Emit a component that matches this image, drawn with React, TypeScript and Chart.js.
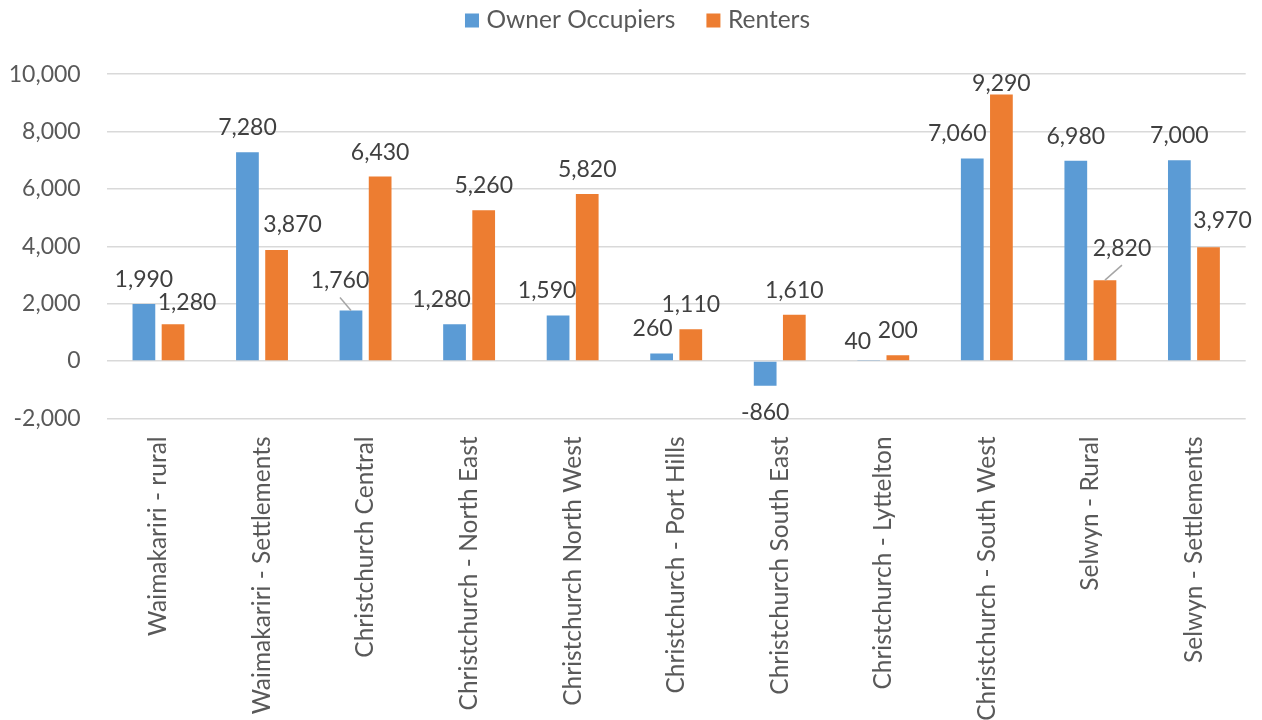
import React, { useEffect, useRef } from 'react';
import { Chart, registerables } from 'chart.js';

Chart.register(...registerables);

const categories = [
  'Waimakariri - rural',
  'Waimakariri - Settlements',
  'Christchurch Central',
  'Christchurch - North East',
  'Christchurch North West',
  'Christchurch - Port Hills',
  'Christchurch South East',
  'Christchurch - Lyttelton',
  'Christchurch - South West',
  'Selwyn - Rural',
  'Selwyn - Settlements',
];

const ownerOccupiers = [1990, 7280, 1760, 1280, 1590, 260, -860, 40, 7060, 6980, 7000];
const renters = [1280, 3870, 6430, 5260, 5820, 1110, 1610, 200, 9290, 2820, 3970];

const seriesNames = ['Owner Occupiers', 'Renters'];
const seriesColors = ['#5B9BD5', '#ED7D31'];

const yMin = -2000;
const yMax = 10000;
const yStep = 2000;

// label nudges in px [dx, dy] (Excel's manual label placement)
const ownerNudge = [[0, 0], [0, 0], [-11, -5.5], [-13, 0], [-11, 0], [-9, 0], [0, 0], [-11, 6.5], [-15, 0], [0, 0], [0, 0]];
const renterNudge = [[14, 2.5], [16, -1.3], [0, 0], [0, 0], [0, 0], [0, 0], [0, 0], [0, 0], [0, 14], [17, -7.5], [14, -2.5]];
const ownerLeader = [2];
const renterLeader = [9];

const FONT = 'Lato, "Open Sans", sans-serif';
const AXIS_SIZE = 23;
const TEXT_SIZE = 24.5;
const LABEL_SIZE = 23;

const fmt = (v: number) => v.toLocaleString('en-US');

const dataLabels = {
  id: 'dataLabels',
  afterDatasetsDraw(chart: any) {
    const ctx = chart.ctx;
    const nudges = [ownerNudge, renterNudge];
    const leaders = [ownerLeader, renterLeader];
    ctx.save();
    ctx.font = `${LABEL_SIZE}px ${FONT}`;
    ctx.textAlign = 'center';
    ctx.textBaseline = 'middle';
    chart.data.datasets.forEach((ds: any, di: number) => {
      const meta = chart.getDatasetMeta(di);
      meta.data.forEach((bar: any, i: number) => {
        const v = ds.data[i] as number;
        const [dx, dy] = nudges[di][i];
        const x = bar.x + dx;
        const y = v >= 0 ? bar.y - 24.5 + dy : bar.y + 27 + dy;
        if (leaders[di].includes(i)) {
          ctx.strokeStyle = '#A6A6A6';
          ctx.lineWidth = 1.5;
          ctx.beginPath();
          ctx.moveTo(x, y + 17);
          ctx.lineTo(bar.x, bar.y);
          ctx.stroke();
        }
        ctx.fillStyle = '#404040';
        ctx.fillText(fmt(v), x, y);
      });
    });
    ctx.restore();
  },
};

const topLegend = {
  id: 'topLegend',
  afterDraw(chart: any) {
    const ctx = chart.ctx;
    ctx.save();
    ctx.font = `${TEXT_SIZE}px ${FONT}`;
    ctx.textBaseline = 'middle';
    ctx.textAlign = 'left';
    const box = 14;
    const gapText = 7.5;
    const gapItem = 31;
    const items = chart.data.datasets.map((d: any) => ({
      text: d.label,
      color: d.backgroundColor,
      w: ctx.measureText(d.label).width,
    }));
    const total = items.reduce((s: number, it: any) => s + box + gapText + it.w, 0) + gapItem * (items.length - 1);
    let x = 637.5 - total / 2;
    const cy = 20.5;
    items.forEach((it: any) => {
      ctx.fillStyle = it.color;
      ctx.fillRect(x, cy - box / 2, box, box);
      x += box + gapText;
      ctx.fillStyle = '#595959';
      ctx.fillText(it.text, x, cy);
      x += it.w + gapItem;
    });
    ctx.restore();
  },
};

export default function App() {
  const ref = useRef<HTMLCanvasElement>(null);

  useEffect(() => {
    if (!ref.current) return;
    const chart = new Chart(ref.current, {
      type: 'bar',
      data: {
        labels: categories,
        datasets: [
          {
            label: seriesNames[0],
            data: ownerOccupiers,
            backgroundColor: seriesColors[0],
            categoryPercentage: 0.563,
            barPercentage: 0.78,
          },
          {
            label: seriesNames[1],
            data: renters,
            backgroundColor: seriesColors[1],
            categoryPercentage: 0.563,
            barPercentage: 0.78,
          },
        ],
      },
      options: {
        responsive: false,
        animation: false,
        devicePixelRatio: 1,
        layout: { padding: { top: 74.2, right: 16.3, left: 0, bottom: 0 } },
        plugins: {
          legend: { display: false },
          tooltip: { enabled: false },
        },
        scales: {
          x: {
            grid: { display: false, drawTicks: false },
            border: { display: false },
            ticks: {
              autoSkip: false,
              maxRotation: 90,
              minRotation: 90,
              padding: 18,
              color: '#595959',
              font: { family: FONT, size: TEXT_SIZE },
            },
            afterFit(scale: any) {
              scale.height = 720 - 418.4;
            },
          },
          y: {
            min: yMin,
            max: yMax,
            grid: { color: '#D9D9D9', lineWidth: 1.5, drawTicks: false },
            border: { display: false },
            ticks: {
              stepSize: yStep,
              padding: 26,
              color: '#595959',
              font: { family: FONT, size: AXIS_SIZE },
              callback: (v: any) => fmt(Number(v)),
            },
            afterFit(scale: any) {
              scale.width = 106.7;
            },
          },
        },
      },
      plugins: [dataLabels, topLegend],
    });
    return () => chart.destroy();
  }, []);

  return (
    <div style={{ position: 'fixed', left: 0, top: 0, width: 1262, height: 720, background: '#fff' }}>
      <canvas ref={ref} width={1262} height={720} style={{ display: 'block' }} />
    </div>
  );
}
